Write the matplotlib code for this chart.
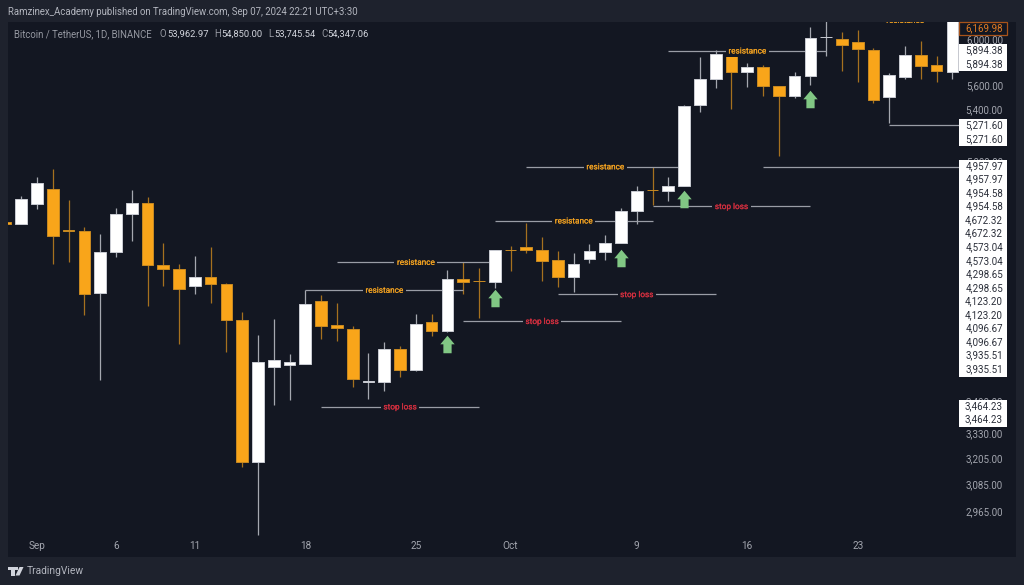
import matplotlib
matplotlib.use("Agg")
import matplotlib.pyplot as plt
import matplotlib.patheffects as pe
from matplotlib.patches import Rectangle, Polygon
from matplotlib.path import Path
from matplotlib.ticker import NullLocator
from matplotlib.transforms import ScaledTranslation

W, H = 1024, 585
BG_OUT = "#1e222d"
BG = "#131722"
ORANGE = "#f9a51a"
ORANGE_EDGE = "#c98a22"
ORANGE_WICK = "#a6711f"
WHITE_WICK = "#a5a8b0"
GREY = "#9598a1"
LINE = "#9a9da6"
RED = "#d32f3f"
AMBER = "#f0a020"
GREEN = "#81c784"
FONT = "Roboto"

# Daily candles; day 1 = 1 Sep, day 31 = 1 Oct
days = list(range(-1, 60))
open_ = [4564, 4553, 4688.5, 4794.6, 4510, 4505.2, 4103.2, 4364.2, 4619, 4693.4, 4282.3,
         4256.7, 4150.1, 4206.2, 4158.4, 3944.6, 3188.1, 3674, 3685, 3690.5, 4058,
         3912.3, 3888.4, 3596, 3595.9, 3777.4, 3657.5, 3929.3, 3880.3, 4191.7, 4181,
         4173, 4379, 4399, 4377.2, 4312.3, 4206.2, 4316.8, 4366.2, 4421.3, 4637.6,
         4787.4, 4780.3, 4818.4, 5437.9, 5647.9, 5854, 5707.4, 5755.3, 5591.8, 5509,
         5678.5, 6014, 5998, 5971, 5903, 5503, 5664.9, 5859.4, 5767.5, 5707.4]
close = [4552, 4724, 4837.8, 4471.8, 4506, 4099, 4366.2, 4619, 4693.4, 4282.3, 4256.7,
         4129.6, 4206.2, 4160.6, 3944.6, 3188.1, 3701.5, 3714.2, 3701.5, 4036.4, 3909.5,
         3898, 3608.7, 3599.5, 3777.4, 3657.5, 3921.2, 3880.3, 4191.7, 4173, 4178,
         4377.2, 4376, 4377.2, 4305.9, 4206.2, 4288.7, 4368.8, 4421.3, 4637.6, 4782.4,
         4784, 4818.4, 5429.8, 5647.9, 5865.5, 5707.4, 5755.3, 5591.8, 5509, 5678.5,
         6007, 6019, 5947, 5909.4, 5473.5, 5687, 5859.4, 5764, 5716, 6169.98]
high = [4564, 4745, 4883.6, 4940, 4716.5, 4528.2, 4483.1, 4660.6, 4787.4, 4735.6, 4425.2,
        4284.8, 4336.3, 4395, 4164.9, 3992, 3857.3, 3948.7, 3747.7, 4123.4, 4091,
        4044.2, 3909.5, 3751.7, 3817.2, 3792.8, 3980.2, 3978.4, 4250.3, 4297.6, 4261.1,
        4377.2, 4405.5, 4559.4, 4465.9, 4372.7, 4355.8, 4414.7, 4478.5, 4658.5, 4816,
        4957.1, 4879.2, 5437.9, 5841.9, 5900.5, 5883, 5784.7, 5770, 5594.3, 5707.4,
        6103.9, 6187, 6058.8, 6076.9, 5920.9, 5701.4, 5936, 5978, 5845, 6230]
low = [4552, 4553, 4653.6, 4286.7, 4299.5, 3972.5, 3604.9, 4333.7, 4436.4, 4028, 4150.1,
       3802.4, 4099, 4042.4, 3758.9, 3167.2, 2861.4, 3472.9, 3500.4, 3690.5, 3834.3,
       3821, 3569, 3505.6, 3544.6, 3622.6, 3653.7, 3849.8, 3872.8, 4100.8, 3952.9,
       4137.7, 4242, 4359.7, 4181, 4143.8, 4113, 4291.2, 4312.3, 4421.3, 4548.5,
       4681.5, 4709.5, 4812.6, 5378.9, 5577.6, 5400.6, 5585.9, 5509, 5039.2, 5490,
       5597.7, 5847, 5718.4, 5622.8, 5449, 5288.9, 5647.9, 5647.9, 5627.9, 5647.9]

resistance_levels = [4123.20, 4298.65, 4573.04, 4957.97, 5894.38, 6169.98]
resistance_days = [18, 20, 30, 32, 41, 51]
stop_levels = [3464.23, 3935.51, 4096.67, 4672.32]
stop_days = [19, 28, 34, 40]
extended_levels = [5271.60, 4954.58]
extended_days = [55, 47]

arrow_days = [27, 30, 38, 42, 50]
arrow_prices = [3805, 4073, 4322, 4721.5, 5486]

price_ticks = [6000, 5600, 5400, 5000, 3490, 3330, 3205, 3085, 2965]
date_ticks = [1, 6, 11, 18, 25, 31, 39, 46, 53]
date_labels = ["Sep", "6", "11", "18", "25", "Oct", "9", "16", "23"]

stack_top = [5894.38] * 2
stack_mid = [5271.60] * 2
stack_main = [4957.97, 4957.97, 4954.58, 4954.58, 4672.32, 4672.32, 4573.04, 4573.04,
              4298.65, 4298.65, 4123.20, 4123.20, 4096.67, 4096.67, 3935.51, 3935.51]
stack_low = [3464.23] * 2
last_price = 6169.98

fig = plt.figure(figsize=(W / 100, H / 100), dpi=100, facecolor=BG_OUT)
plt.rcParams["font.family"] = [FONT, "DejaVu Sans"]


def fx(x):
    return x / W


def fy(y):
    return 1 - y / H


L, R, T, B = 8, 1016, 22, 556.7
ax = fig.add_axes([fx(L), fy(B), fx(R) - fx(L), fy(T) - fy(B)], facecolor=BG)
ax.set_yscale("log")
ax.set_xlim(-0.84, 63.03)
ax.set_ylim(2768.6, 6152.4)
for s in ax.spines.values():
    s.set_visible(False)

# Candles
for d, o, c, h, l in zip(days, open_, close, high, low):
    up = c >= o
    wick = WHITE_WICK if up else ORANGE_WICK
    ax.vlines(d, l, h, color=wick, lw=0.9, zorder=2)
    ax.bar(d, abs(c - o), bottom=min(o, c), width=0.74,
           color="white" if up else ORANGE,
           edgecolor="#c9ccd3" if up else ORANGE_EDGE, linewidth=0.7, zorder=3)

# Levels
xstop = 59.4
for lv, d in zip(resistance_levels + stop_levels, resistance_days + stop_days):
    ax.hlines(lv, d, d + 10, color=LINE, lw=0.9, zorder=2.5)
for lv, d in zip(extended_levels, extended_days):
    ax.hlines(lv, d, xstop, color=LINE, lw=0.9, zorder=2.5)

box = dict(facecolor=BG, edgecolor="none", pad=1.8)
nudge = ax.transData + ScaledTranslation(0, -0.008, fig.dpi_scale_trans)
for lv, d in zip(resistance_levels, resistance_days):
    t = ax.text(d + 5, lv, "resistance", color=AMBER, fontsize=5.9, ha="center", va="center",
                bbox=box, zorder=4, clip_on=True, transform=nudge)
    t.set_path_effects([pe.withStroke(linewidth=0.1, foreground=AMBER)])
for lv, d in zip(stop_levels, stop_days):
    t = ax.text(d + 5, lv, "stop loss", color=RED, fontsize=5.9, ha="center", va="center",
                bbox=box, zorder=4, clip_on=True, transform=nudge)
    t.set_path_effects([pe.withStroke(linewidth=0.1, foreground=RED)])

# Arrows
arrow = Path([(0, 1), (0.82, 0.02), (0.47, 0.02), (0.47, -1), (-0.47, -1), (-0.47, 0.02),
              (-0.82, 0.02), (0, 1)], closed=True)
ax.plot(arrow_days, arrow_prices, ls="none", marker=arrow, ms=12.6, mfc=GREEN, mew=0, zorder=4)

# Axes ticks, drawn inside the panel
ax.yaxis.tick_right()
ax.yaxis.set_minor_locator(NullLocator())
ax.set_yticks(price_ticks)
ax.set_yticklabels([f"{p:,.2f}" for p in price_ticks])
ax.tick_params(axis="y", which="both", length=0, pad=-9.4, labelcolor="#a3a6af", labelsize=7.0)
for t in ax.get_yticklabels():
    t.set_ha("right")
ax.set_xticks(date_ticks)
ax.set_xticklabels(date_labels)
ax.tick_params(axis="x", length=0, pad=-11.2, labelcolor="#a3a6af", labelsize=7.2)


# Stacked price labels
def stack(values, y_top, y_bottom, first_y, step=13.53):
    fig.add_artist(Rectangle((fx(959.3), fy(y_bottom)), fx(47.4), fy(y_top) - fy(y_bottom),
                             transform=fig.transFigure, fc="white", ec="none", zorder=5))
    for i, v in enumerate(values):
        fig.text(fx(1003), fy(first_y + i * step), f"{v:,.2f}", color="#2a2e39", fontsize=7.0,
                 ha="right", va="center", zorder=6)


stack(stack_top, 44.3, 71.3, 50.7)
stack(stack_mid, 119, 146, 125.3)
stack(stack_main, 160, 376.7, 166)
stack(stack_low, 400, 426.7, 406)

fig.add_artist(Rectangle((fx(959.3), fy(34.7)), fx(47.4), fy(21.7) - fy(34.7),
                         transform=fig.transFigure, fc=BG, ec="#a8531a", lw=0.9, zorder=5))
fig.text(fx(1003), fy(28.2), f"{last_price:,.2f}", color="#e07b22", fontsize=7.0, ha="right",
         va="center", zorder=6)

# Header text
fig.text(fx(8), fy(12.3), "Ramzinex_Academy published on TradingView.com, Sep 07, 2024 22:21 UTC+3:30",
         color="#b2b5be", fontsize=6.9, va="center")
fig.text(fx(14.5), fy(34), "Bitcoin / TetherUS, 1D, BINANCE", color=GREY, fontsize=6.95, va="center", zorder=6)
for x, letter, x2, val in [(160, "O", 167, "53,962.97"), (214, "H", 221, "54,850.00"),
                           (268, "L", 274, "53,745.54"), (321, "C", 327, "54,347.06")]:
    fig.text(fx(x), fy(34), letter, color=GREY, fontsize=6.9, va="center", zorder=6)
    fig.text(fx(x2), fy(34), val, color="#d1d4dc", fontsize=6.75, va="center", zorder=6)

# Footer logo and name
fc = "#d1d4dc"
tf = fig.transFigure
fig.add_artist(Polygon([(fx(8), fy(567)), (fx(14.5), fy(567)), (fx(14.5), fy(575.5)), (fx(11.2), fy(575.5)),
                        (fx(11.2), fy(570)), (fx(8), fy(570))], closed=True, transform=tf, fc=fc, ec="none"))
fig.add_artist(Polygon([(fx(19.5), fy(567)), (fx(23.5), fy(567)), (fx(19.5), fy(575.5)), (fx(15.5), fy(575.5))],
                       closed=True, transform=tf, fc=fc, ec="none"))
fig.add_artist(Polygon([(fx(15.2), fy(567)), (fx(17.8), fy(567)), (fx(17.8), fy(569.6)), (fx(15.2), fy(569.6))],
                       closed=True, transform=tf, fc=fc, ec="none"))
fig.text(fx(27), fy(570.8), "TradingView", color="#b2b5be", fontsize=7.4, va="center")

fig.savefig("out.png", dpi=100, facecolor=BG_OUT)
